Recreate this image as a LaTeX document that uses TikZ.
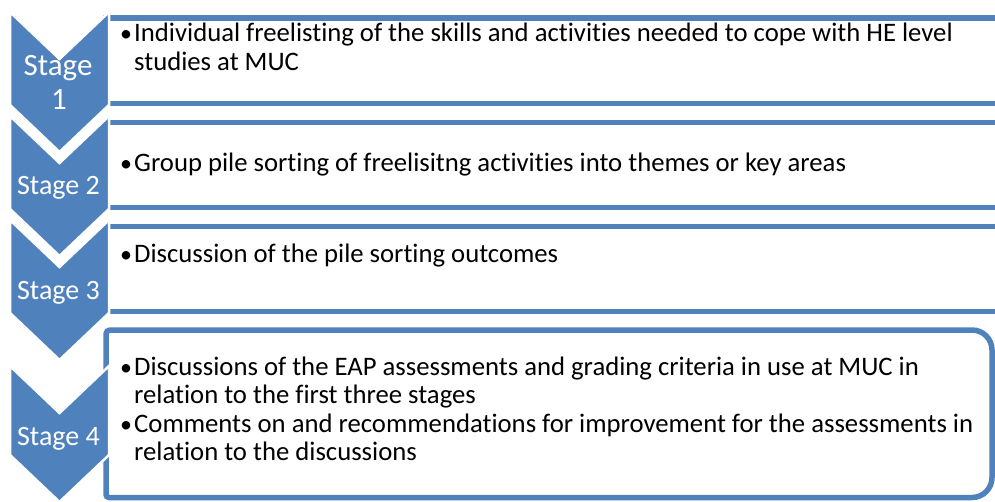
\documentclass[tikz,border=0pt]{standalone}
\usepackage{fontspec}
\setmainfont{Carlito}[Ligatures=NoCommon]
\definecolor{accent}{HTML}{4F81BD}
\begin{document}
\begin{tikzpicture}[x=1pt,y=-1pt,
  chev/.style={fill=accent,draw=white,line width=2.5pt,line join=miter},
  box/.style={draw=accent,line width=5.5pt,fill=white},
  body/.style={anchor=base west,inner sep=0pt,font=\fontsize{26.7}{29}\selectfont},
  bul/.style={anchor=base,inner sep=0pt,font=\fontsize{24}{29}\selectfont},
  lab/.style={text=white,inner sep=0pt,anchor=base,font=\fontsize{28}{34}\selectfont},
  labbig/.style={lab,font=\fontsize{31}{36}\selectfont}]
\useasboundingbox (0,0) rectangle (995,502);
\clip (0,0) rectangle (995,502);
% boxes
\draw[box] (106,18) rectangle (1040,103.5);
\draw[box] (106,122.5) rectangle (1040,207.5);
\draw[box] (106,226.5) rectangle (1040,311.5);
\draw[box] (106,414) [rounded corners=4] -- (106,330) [rounded corners=20] -- (992,330) -- (992,497.5) [rounded corners=3] -- (106,497.5) -- cycle;
% chevrons
\draw[chev] (10,12) -- (59.5,59) -- (109,12) -- (109,105) -- (59.5,152) -- (10,105) -- cycle;
\draw[chev] (10,116) -- (59.5,163) -- (109,116) -- (109,209) -- (59.5,256) -- (10,209) -- cycle;
\draw[chev] (10,220) -- (59.5,267) -- (109,220) -- (109,313) -- (59.5,360) -- (10,313) -- cycle;
\draw[chev] (10,366) -- (59.5,413) -- (109,366) -- (109,455) -- (59.5,502) -- (10,455) -- cycle;
% stage labels
\node[labbig] (s1a) at (58,76) {Stage};
\node[labbig] (s1b) at (59,110) {1};
\node[lab] (s2) at (58.5,195) {Stage 2};
\node[lab] (s3) at (58.5,300) {Stage 3};
\node[lab] (s4) at (58.5,445) {Stage 4};
% texts
\node[bul] (b1) at (126,42) {•};
\node[body] (t1a) at (134,42) {Individual freelisting of the skills and activities needed to cope with HE level};
\node[body] (t1b) at (134,71) {studies at MUC};
\node[bul] (b2) at (126,172) {•};
\node[body] (t2) at (134,172) {Group pile sorting of freelisitng activities into themes or key areas};
\node[bul] (b3) at (126,263) {•};
\node[body] (t3) at (134,263) {Discussion of the pile sorting outcomes};
\node[bul] (b4a) at (126,375) {•};
\node[body] (t4a) at (134,375) {Discussions of the EAP assessments and grading criteria in use at MUC in};
\node[body] (t4b) at (134,403) {relation to the first three stages};
\node[bul] (b4c) at (126,432) {•};
\node[body] (t4c) at (134,432) {Comments on and recommendations for improvement for the assessments in};
\node[body] (t4d) at (134,460) {relation to the discussions};
\end{tikzpicture}
\end{document}
